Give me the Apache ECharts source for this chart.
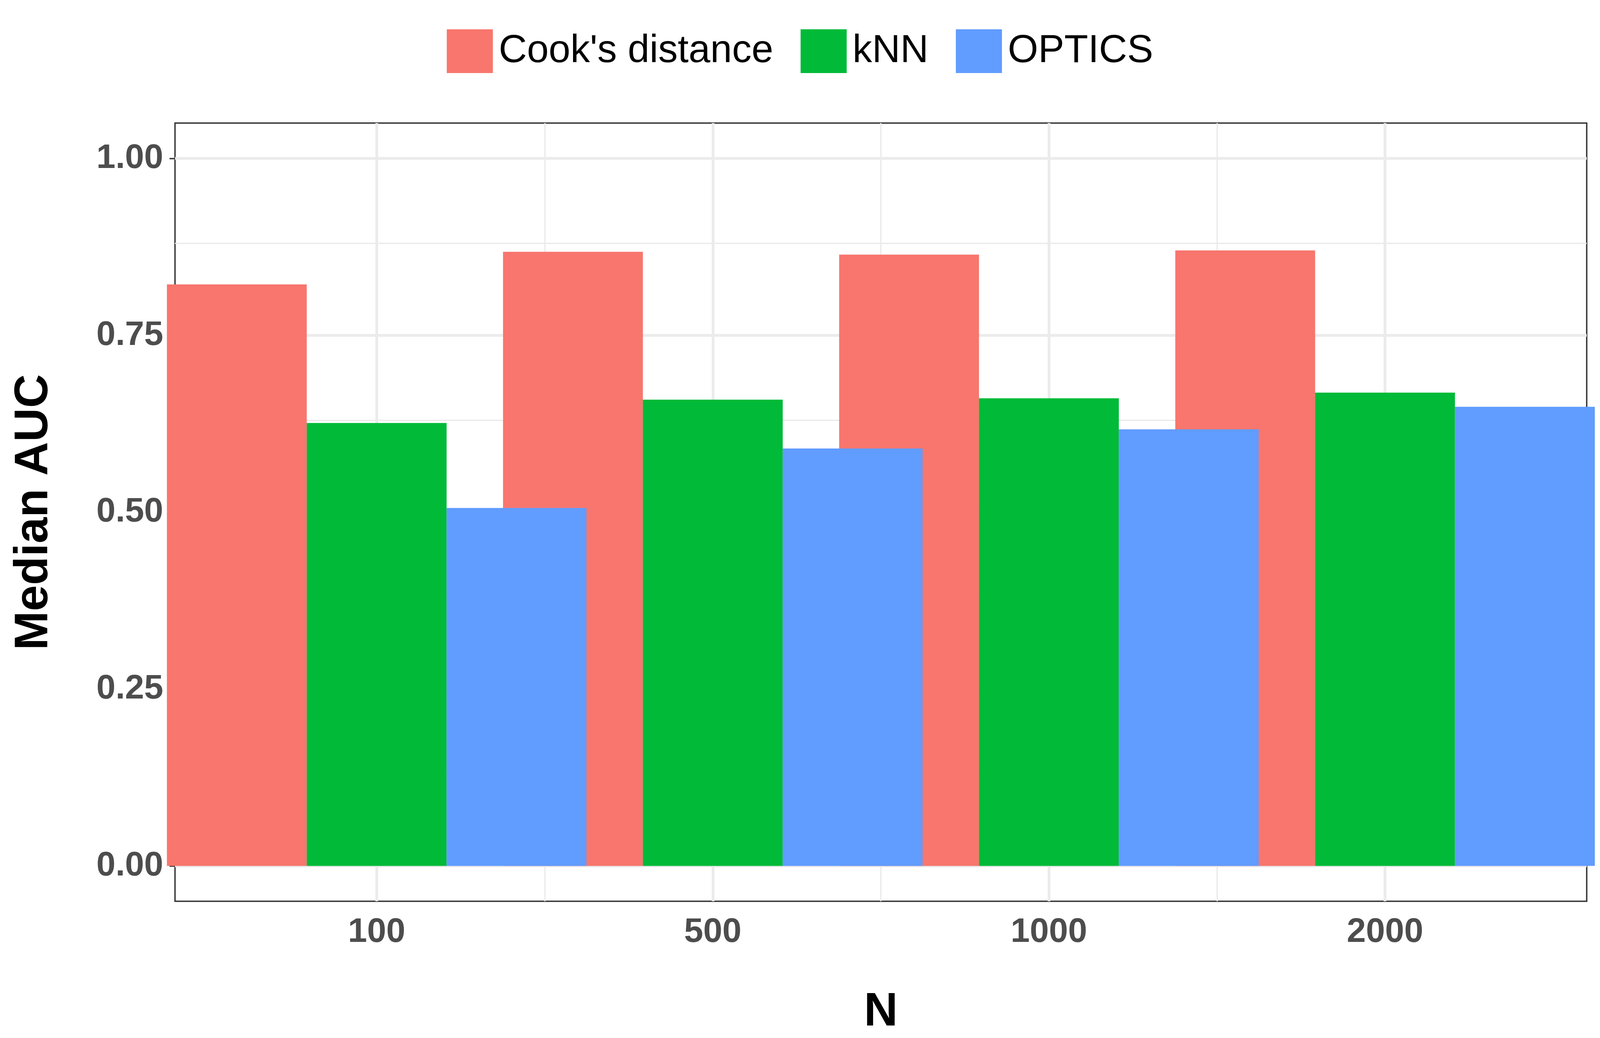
<!DOCTYPE html>
<html>
<head>
<meta charset="utf-8">
<title>Median AUC</title>
<script src="https://cdn.jsdelivr.net/npm/echarts@6/dist/echarts.min.js"></script>
<style>html,body{margin:0;padding:0;background:#fff;overflow:hidden}#chart{width:100vw;height:100vh}</style>
</head>
<body>
<div id="chart"></div>
<script>
// data
var sizes = ['100', '500', '1000', '2000'];
var methods = ["Cook's distance", 'kNN', 'OPTICS'];
var cooks = [0.822, 0.868, 0.864, 0.870];
var knn = [0.626, 0.659, 0.661, 0.669];
var optics = [0.506, 0.590, 0.617, 0.649];
var yTicks = [0, 0.25, 0.5, 0.75, 1];
var yMinor = [0.125, 0.375, 0.625, 0.875];
var colors = ['#F8766D', '#00BA38', '#619CFF'];

var chart = echarts.init(document.getElementById('chart'));
var font = 'Liberation Sans';

function pts(vals) {
    return vals.map(function (v, i) { return [i + 1, v]; });
}

var gridLines = [];
yTicks.forEach(function (v) { gridLines.push({yAxis: v, lineStyle: {width: 7}}); });
yMinor.forEach(function (v) { gridLines.push({yAxis: v, lineStyle: {width: 3.5}}); });
sizes.forEach(function (s, i) { gridLines.push({xAxis: i + 1, lineStyle: {width: 7}}); });
[1.5, 2.5, 3.5].forEach(function (v) { gridLines.push({xAxis: v, lineStyle: {width: 3.5}}); });

var seriesData = [cooks, knn, optics];
var series = [{
    type: 'line', data: [], zlevel: 0, z: 1, silent: true,
    markLine: {
        silent: true, symbol: 'none', label: {show: false},
        lineStyle: {color: '#EBEBEB', type: 'solid'},
        data: gridLines
    }
}];
methods.forEach(function (m, k) {
    series.push({
        name: m, type: 'bar', data: pts(seriesData[k]), zlevel: 1, z: 2,
        barWidth: 358, barGap: '0%',
        itemStyle: {color: colors[k]}
    });
});

chart.setOption({
    animation: false,
    legend: {
        data: methods, top: 70, left: 'center',
        itemWidth: 118, itemHeight: 112, itemGap: 70,
        icon: 'rect',
        textStyle: {fontFamily: font, fontSize: 100, color: '#000', padding: [0, 0, 0, 10]}
    },
    grid: {
        left: 448, right: 34, top: 315, bottom: 335,
        show: true, borderColor: '#333', borderWidth: 3.5, backgroundColor: '#fff'
    },
    xAxis: {
        type: 'value', min: 0.4, max: 4.6, interval: 0.1,
        name: 'N', nameLocation: 'middle', nameGap: 225,
        nameTextStyle: {fontFamily: font, fontSize: 120, fontWeight: 'bold', color: '#000'},
        axisLine: {show: false}, axisTick: {show: false}, splitLine: {show: false},
        axisLabel: {
            margin: 36, fontFamily: font, fontSize: 88, fontWeight: 'bold', color: '#4D4D4D',
            showMinLabel: false, showMaxLabel: false,
            formatter: function (v) {
                var r = Math.round(v);
                return Math.abs(v - r) < 1e-6 && r >= 1 && r <= 4 ? sizes[r - 1] : '';
            }
        }
    },
    yAxis: {
        type: 'value', min: -0.05, max: 1.05,
        name: 'Median AUC', nameLocation: 'middle', nameGap: 300,
        nameTextStyle: {fontFamily: font, fontSize: 120, fontWeight: 'bold', color: '#000'},
        axisLine: {show: false}, splitLine: {show: false},
        axisTick: {show: true, customValues: yTicks, length: 14, lineStyle: {color: '#333', width: 3.5}},
        axisLabel: {
            customValues: yTicks, margin: 30,
            fontFamily: font, fontSize: 88, fontWeight: 'bold', color: '#4D4D4D',
            formatter: function (v) { return v.toFixed(2); }
        }
    },
    series: series
});
</script>
</body>
</html>
